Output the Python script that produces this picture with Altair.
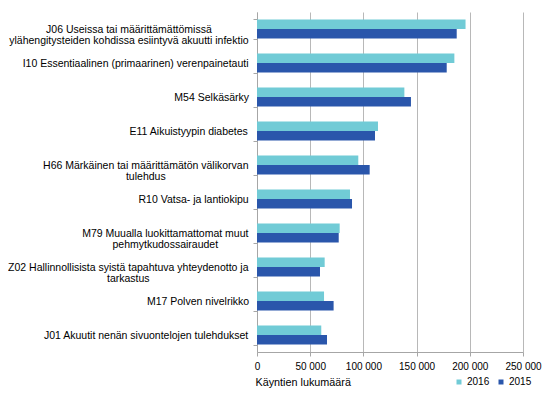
import altair as alt
import pandas as pd

categories = [
    ["J06 Useissa tai määrittämättömissä", "ylähengitysteiden kohdissa esiintyvä akuutti infektio"],
    ["I10 Essentiaalinen (primaarinen) verenpainetauti"],
    ["M54 Selkäsärky"],
    ["E11 Aikuistyypin diabetes"],
    ["H66 Märkäinen tai määrittämätön välikorvan", "tulehdus"],
    ["R10 Vatsa- ja lantiokipu"],
    ["M79 Muualla luokittamattomat muut", "pehmytkudossairaudet"],
    ["Z02 Hallinnollisista syistä tapahtuva yhteydenotto ja", "tarkastus"],
    ["M17 Polven nivelrikko"],
    ["J01 Akuutit nenän sivuontelojen tulehdukset"],
]
values_2016 = [196000, 185500, 138500, 113700, 95200, 87400, 77700, 63600, 63000, 60400]
values_2015 = [187700, 178300, 144700, 110900, 105900, 89300, 76800, 59200, 72000, 65800]
years = ["2016", "2015"]
x_ticks = [0, 50000, 100000, 150000, 200000, 250000]

FS = 10.5
# Arial / Liberation Sans advance widths (per 1000 em), used to centre each label block
W = {" ": 278, "(": 333, ")": 333, "-": 333, "i": 222, "j": 222, "l": 222,
     "f": 278, "t": 278, "r": 333, "c": 500, "k": 500, "s": 500, "v": 500, "x": 500,
     "y": 500, "z": 500, "m": 833, "w": 722, "I": 278, "J": 500, "Z": 611, "A": 667,
     "E": 667, "H": 722, "R": 722, "M": 833}


def block_width(lines):
    return max(sum(W.get(ch, 556) for ch in s) for s in lines) * FS / 1000


labels = ["|".join(c) for c in categories]

pad_conditions = [
    {"test": "datum.value == '%s'" % lab, "value": round(5 + block_width(c) / 2, 1)}
    for lab, c in zip(labels, categories)
]

rows = []
for lab, a, b in zip(labels, values_2016, values_2015):
    rows.append({"cat": lab, "year": years[0], "value": a})
    rows.append({"cat": lab, "year": years[1], "value": b})
df = pd.DataFrame(rows)

chart = alt.Chart(df).mark_bar().encode(
    y=alt.Y("cat:N", sort=labels,
            scale=alt.Scale(paddingInner=0.44, paddingOuter=0.22),
            axis=alt.Axis(title=None, labelExpr="split(datum.label, '|')",
                          labelFont="Liberation Sans", labelFontSize=FS, labelColor="#000000",
                          labelAlign="center", labelLimit=400,
                          labelPadding={"condition": pad_conditions, "value": 8},
                          labelLineHeight=11,
                          tickBand="extent", tickSize=4, tickColor="#A6A6A6",
                          domainColor="#A6A6A6", grid=False)),
    yOffset=alt.YOffset("year:N", sort=years),
    x=alt.X("value:Q", scale=alt.Scale(domain=[0, 250000]),
            axis=alt.Axis(values=x_ticks, title="Käyntien lukumäärä",
                          labelExpr="replace(format(datum.value, ','), ',', ' ')",
                          labelOverlap=False, labelFlush=False,
                          labelFont="Liberation Sans", labelFontSize=10, labelColor="#000000",
                          titleFont="Liberation Sans", titleFontSize=10.8, titleFontWeight="normal",
                          titleColor="#000000", titleAnchor="start", titleAlign="left",
                          titlePadding=5, titleX=-2,
                          tickSize=4, tickColor="#A6A6A6", domainColor="#A6A6A6",
                          grid=True, gridColor="#B8B8B8", labelPadding=5)),
    color=alt.Color("year:N", sort=years,
                    scale=alt.Scale(domain=years, range=["#71CBD6", "#2A56AB"]),
                    legend=alt.Legend(title=None, orient="none", direction="horizontal",
                                      legendX=197, legendY=365, symbolType="square",
                                      symbolSize=25, symbolStrokeWidth=0,
                                      labelFont="Liberation Sans", labelFontSize=10,
                                      labelColor="#000000", columnPadding=6, labelOffset=3)),
).properties(
    width=266, height=340,
    autosize=alt.AutoSizeParams(type="none"),
    padding={"left": 249, "top": 4, "right": 25, "bottom": 37},
).configure_view(stroke=None)

chart.save("out.html", embed_options={"renderer": "svg", "actions": False})
